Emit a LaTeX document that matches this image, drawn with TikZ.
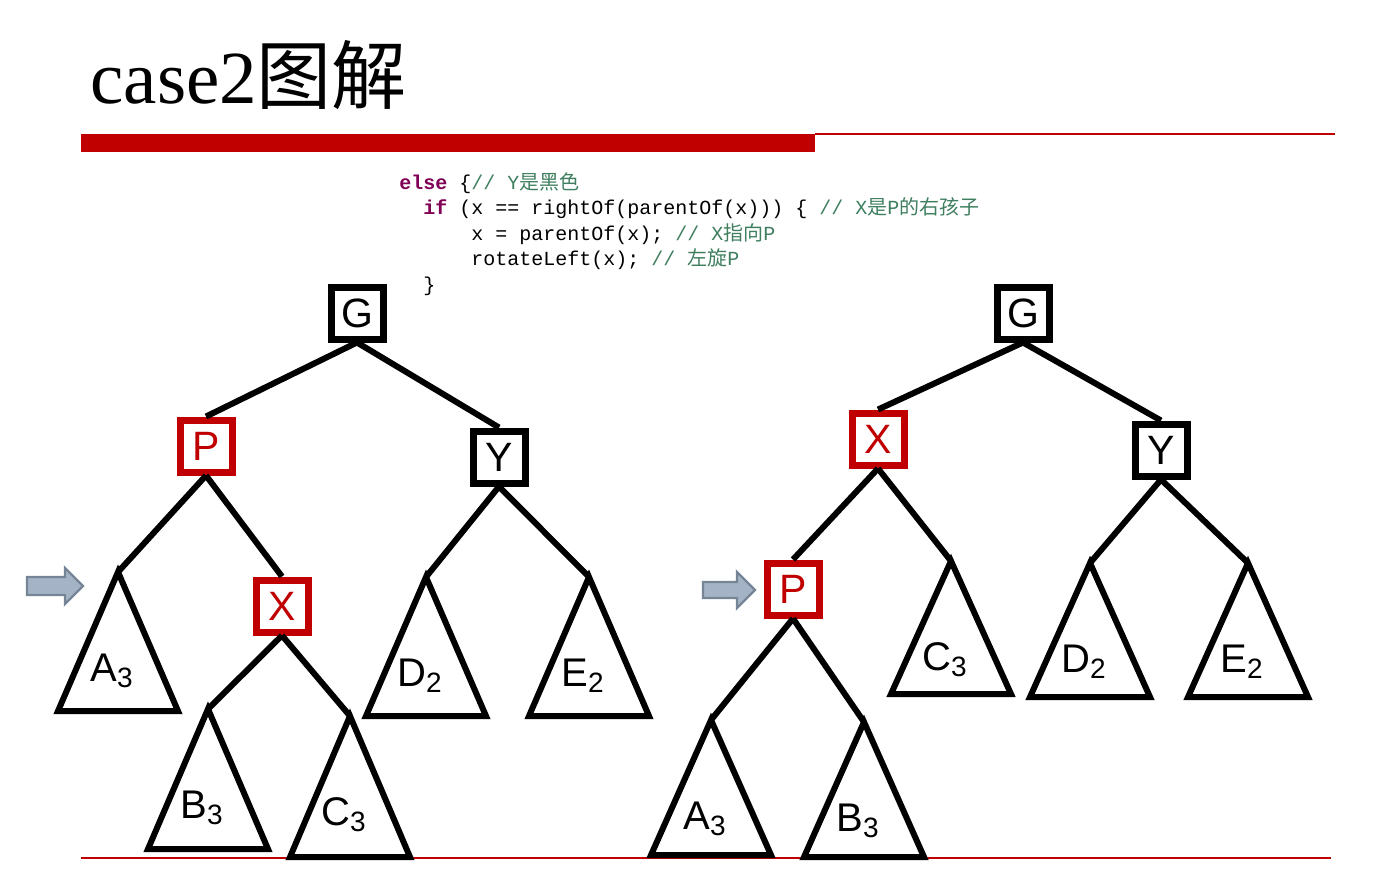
\documentclass[tikz,border=0pt]{standalone}
\usepackage{fontspec}
\setmainfont{Liberation Sans}
\setmonofont{Liberation Mono}
\newfontfamily\titlefont{Liberation Serif}
\newfontfamily\cjk{Noto Sans CJK SC}
\usetikzlibrary{positioning,calc}
\definecolor{slidered}{RGB}{192,0,0}
\definecolor{kwpurple}{RGB}{127,0,85}
\definecolor{cmtgreen}{RGB}{63,127,95}
\definecolor{hintfill}{RGB}{164,180,198}
\definecolor{hintedge}{RGB}{118,133,150}
\newcommand{\kw}[1]{\textcolor{kwpurple}{\textbf{#1}}}
\newcommand{\cmt}[1]{\textcolor{cmtgreen}{#1}}
% subtree: name, apex, height, label
\newcommand{\subtree}[4]{%
  \coordinate (#1) at (#2);
  \draw[tri] (#1) -- ++(-60,#3) -- ++(120,0) -- cycle;
  \path (#1) ++(-6,99) node[lbl] (#1-l) {#4};}
\tikzset{
  box/.style={draw=black,fill=white,line width=3.5pt,minimum size=26pt,
              inner sep=0pt,font=\fontsize{20.5}{24}\selectfont},
  rbox/.style={box,draw=slidered,text=slidered},
  tri/.style={draw=black,line width=3pt},
  edge/.style={draw=black,line width=3pt},
  lbl/.style={font=\fontsize{20}{24}\selectfont,inner sep=0pt},
  hint/.style={fill=hintfill,draw=hintedge,line width=1.2pt},
  code/.style={anchor=north west,align=left,inner sep=0pt,
               font=\ttfamily\fontsize{10}{12.75}\selectfont},
}
\begin{document}
\begin{tikzpicture}[x=0.5pt,y=-0.5pt]
  \useasboundingbox (0,0) rectangle (1395,891);
  % title and rules
  \node[anchor=base west,inner sep=0pt] (title) at (90,103)
    {\titlefont\fontsize{37.5}{40}\selectfont case2{\cjk 图解}};
  \fill[slidered] (81,134) rectangle (815,152);
  \draw[slidered,line width=0.75pt] (815,134) -- (1335,134);
  \draw[slidered,line width=0.75pt] (81,858) -- (1331,858);
  % code
  \node[code] (snippet) at (399,172) {%
    \kw{else} \{\cmt{// Y{\cjk 是黑色}}\\
    \hphantom{xx}\kw{if} (x == rightOf(parentOf(x))) \{ \cmt{// X{\cjk 是}P{\cjk 的右孩子}}\\
    \hphantom{xxxxxx}x = parentOf(x); \cmt{// X{\cjk 指向}P}\\
    \hphantom{xxxxxx}rotateLeft(x); \cmt{// {\cjk 左旋}P}\\
    \hphantom{xx}\}};

  % before rotation
  \node[box] (gL) at (357,313) {G};
  \node[rbox] (pL) at (206,446) {P};
  \node[box] (yL) at (499,457) {Y};
  \node[rbox] (xL) at (282,606) {X};
  \subtree{a3L}{118,572}{139}{A\textsubscript{3}}
  \subtree{b3L}{208,709}{140}{B\textsubscript{3}}
  \subtree{c3L}{350,716}{141}{C\textsubscript{3}}
  \subtree{d2L}{426,577}{139}{D\textsubscript{2}}
  \subtree{e2L}{589,577}{139}{E\textsubscript{2}}
  \draw[edge] (gL.south) -- (pL.north);
  \draw[edge] (gL.south) -- (yL.north);
  \draw[edge] (pL.south) -- (a3L);
  \draw[edge] (pL.south) -- (xL.north);
  \draw[edge] (xL.south) -- (b3L);
  \draw[edge] (xL.south) -- (c3L);
  \draw[edge] (yL.south) -- (d2L);
  \draw[edge] (yL.south) -- (e2L);

  % after rotateLeft(P)
  \node[box] (gR) at (1023,313) {G};
  \node[rbox] (xR) at (878,439) {X};
  \node[box] (yR) at (1161,450) {Y};
  \node[rbox] (pR) at (793,589) {P};
  \subtree{c3R}{951,561}{133}{C\textsubscript{3}}
  \subtree{d2R}{1090,563}{134}{D\textsubscript{2}}
  \subtree{e2R}{1248,563}{134}{E\textsubscript{2}}
  \subtree{a3R}{711,720}{135}{A\textsubscript{3}}
  \subtree{b3R}{864,722}{135}{B\textsubscript{3}}
  \draw[edge] (gR.south) -- (xR.north);
  \draw[edge] (gR.south) -- (yR.north);
  \draw[edge] (xR.south) -- (pR.north);
  \draw[edge] (xR.south) -- (c3R);
  \draw[edge] (pR.south) -- (a3R);
  \draw[edge] (pR.south) -- (b3R);
  \draw[edge] (yR.south) -- (d2R);
  \draw[edge] (yR.south) -- (e2R);

  % hint arrows
  \draw[hint] (27,577) -- (65,577) -- (65,568) -- (83,586) -- (65,604)
    -- (65,595) -- (27,595) -- cycle;
  \draw[hint] (703,582) -- (737,582) -- (737,572) -- (755,590) -- (737,608)
    -- (737,598) -- (703,598) -- cycle;
\end{tikzpicture}
\end{document}
